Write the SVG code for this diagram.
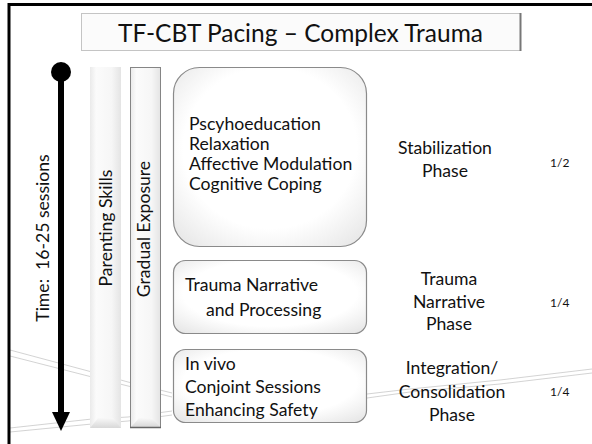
<svg xmlns="http://www.w3.org/2000/svg" width="592" height="444" viewBox="0 0 592 444">
<defs>
<style>
text{font-family:"Lato","Open Sans","Liberation Sans",sans-serif;fill:#111;}
.t{font-size:17.6px;}
.r{font-size:17.6px;white-space:pre;}
.c{text-anchor:middle;}
.s{font-size:12px;}
.deco{fill:none;stroke:#c8c8c8;stroke-width:0.8;}
.box{stroke:#8a8a8a;stroke-width:1.2;}
</style>
<linearGradient id="barg" x1="0" y1="0" x2="1" y2="0">
<stop offset="0" stop-color="#eaeaea"/>
<stop offset="0.2" stop-color="#fbfbfb"/>
<stop offset="0.7" stop-color="#f6f6f6"/>
<stop offset="1" stop-color="#e4e4e4"/>
</linearGradient>
<linearGradient id="bev" x1="0" y1="0" x2="0" y2="1">
<stop offset="0" stop-color="#f8f8f8"/>
<stop offset="1" stop-color="#d8d8d8"/>
</linearGradient>
<radialGradient id="boxg" cx="0.5" cy="0.45" r="0.75">
<stop offset="0.6" stop-color="#ffffff"/>
<stop offset="1" stop-color="#e2e2e2"/>
</radialGradient>
</defs>
<rect width="592" height="444" fill="#fff"/>
<g id="decor">
<polyline class="deco" points="10,350 92,372 128,382 172,393"/>
<polyline class="deco" points="10,356 92,377 128,386 172,397"/>
<polyline class="deco" points="10,428 92,419 128,417 172,411"/>
<polyline class="deco" points="10,432 92,424 128,421 172,415"/>
<polyline class="deco" points="367,394 410,389 500,380 592,369"/>
<polyline class="deco" points="367,398 410,392 500,384 592,373"/>
</g>
<path d="M9 444 V4.5 H592" fill="none" stroke="#000" stroke-width="3"/>
<g id="title">
<rect x="81.5" y="13.5" width="439" height="37" fill="#fbfbfb" stroke="#c4c4c4" stroke-width="1"/>
<line x1="520.5" y1="13" x2="520.5" y2="51" stroke="#777" stroke-width="2"/>
<text x="300.5" y="42" class="c" style="font-size:24.5px">TF-CBT Pacing – Complex Trauma</text>
</g>
<g id="time">
<line x1="61" y1="72" x2="61" y2="415" stroke="#000" stroke-width="6"/>
<circle cx="61" cy="72" r="10" fill="#000"/>
<polygon points="52,412 70,412 61,431" fill="#000"/>
<text transform="translate(49,238) rotate(-90)" class="r c">Time:  16-25 sessions</text>
</g>
<g id="parenting">
<rect x="90" y="67" width="31" height="361" fill="url(#barg)"/>
<polygon points="90,428 121,428 113,418 98,418" fill="url(#bev)"/>
<text transform="translate(112,228) rotate(-90)" class="r c">Parenting Skills</text>
</g>
<g id="exposure">
<rect x="130.5" y="67.5" width="30" height="360" fill="url(#barg)" stroke="#858585" stroke-width="1"/>
<polygon points="131,427 160,427 152,418 139,418" fill="url(#bev)"/>
<line x1="130" y1="427.5" x2="161" y2="427.5" stroke="#666" stroke-width="1.5"/>
<text transform="translate(150,229) rotate(-90)" class="r c">Gradual Exposure</text>
</g>
<g id="stabilization-box">
<rect x="173.5" y="67.5" width="193" height="179" rx="26" fill="url(#boxg)" class="box"/>
<text class="t" x="189" y="130">Pscyhoeducation</text>
<text class="t" x="189" y="150">Relaxation</text>
<text class="t" x="189" y="170">Affective Modulation</text>
<text class="t" x="189" y="190">Cognitive Coping</text>
</g>
<g id="narrative-box">
<rect x="173.5" y="260.5" width="193" height="73" rx="12" fill="url(#boxg)" class="box"/>
<text class="t" x="185" y="291">Trauma Narrative</text>
<text class="t" x="206" y="316">and Processing</text>
</g>
<g id="integration-box">
<rect x="173.5" y="349.5" width="193" height="73" rx="12" fill="url(#boxg)" class="box"/>
<text class="t" x="185" y="370">In vivo</text>
<text class="t" x="185" y="393">Conjoint Sessions</text>
<text class="t" x="185" y="416">Enhancing Safety</text>
</g>
<g id="stabilization-phase">
<text class="t c" x="445" y="154">Stabilization</text>
<text class="t c" x="445" y="177">Phase</text>
<text class="s" x="550" y="167">1/2</text>
</g>
<g id="narrative-phase">
<text class="t c" x="449" y="285">Trauma</text>
<text class="t c" x="449" y="308">Narrative</text>
<text class="t c" x="449" y="330">Phase</text>
<text class="s" x="550" y="307">1/4</text>
</g>
<g id="integration-phase">
<text class="t c" x="452" y="374">Integration/</text>
<text class="t c" x="452" y="398">Consolidation</text>
<text class="t c" x="452" y="421">Phase</text>
<text class="s" x="550" y="396">1/4</text>
</g>
</svg>
